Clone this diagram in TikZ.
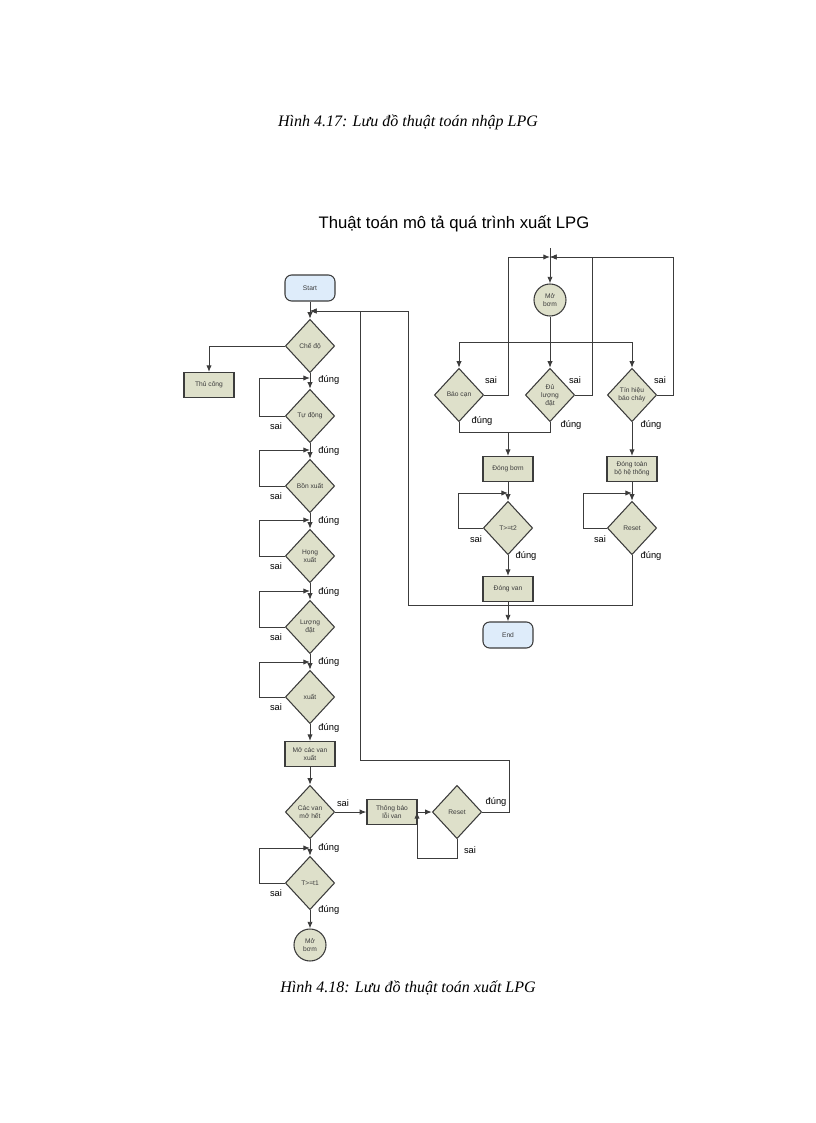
\documentclass[tikz,border=0pt]{standalone}
\usepackage{fontspec}
\setmainfont{Liberation Sans}
\newfontfamily\capfont{Liberation Serif}
\usetikzlibrary{shapes.geometric,arrows.meta}
\definecolor{boxfill}{RGB}{222,224,202}
\definecolor{termfill}{RGB}{222,236,250}
\definecolor{ln}{RGB}{60,60,60}
\begin{document}
\begin{tikzpicture}[x=0.75pt,y=-0.75pt,
  line width=0.7pt, color=ln,
  arr/.style={-{Latex[length=5pt,width=4pt]}},
  box/.style={draw=ln,line width=1pt,fill=boxfill,minimum width=37.5pt,minimum height=18.5pt,inner sep=0pt,font=\fontsize{5}{6}\selectfont,align=center},
  term/.style={draw=ln,line width=0.8pt,fill=termfill,rounded corners=5pt,minimum width=37.5pt,minimum height=19.5pt,inner sep=0pt,font=\fontsize{5}{6}\selectfont},
  dia/.style={diamond,draw=ln,line width=0.8pt,fill=boxfill,minimum width=37pt,minimum height=40pt,inner sep=0pt,font=\fontsize{5}{6}\selectfont,align=center},
  circ/.style={circle,draw=ln,line width=0.8pt,fill=boxfill,minimum size=24pt,inner sep=0pt,font=\fontsize{5}{6}\selectfont,align=center},
  lb/.style={font=\fontsize{7}{8}\selectfont,inner sep=0pt,text=black}]
\useasboundingbox (0,0) rectangle (816,1123);
\node[text=black,font=\capfont\itshape\fontsize{12}{14}\selectfont] (cap1) at (408,122) {Hình 4.17: Lưu đồ thuật toán nhập LPG};
\node[text=black,font=\fontsize{12.5}{15}\selectfont] (title) at (454,224) {Thuật toán mô tả quá trình xuất LPG};
\node[text=black,font=\capfont\itshape\fontsize{12}{14}\selectfont] (cap2) at (408,988) {Hình 4.18: Lưu đồ thuật toán xuất LPG};
% left column
\node[term] (start) at (310,288) {Start};
\coordinate (m0) at (310,311);
\node[dia] (che) at (310,346) {Chế độ};
\node[box] (thu) at (209,385) {Thủ công};
\node[dia] (tu) at (310,416) {Tự động};
\node[dia] (bon) at (310,486) {Bồn xuất};
\node[dia] (hong) at (310,556) {Họng\\xuất};
\node[dia] (luong) at (310,627) {Lượng\\đặt};
\node[dia] (xuat) at (310,697) {xuất};
\node[box] (mocv) at (310,754) {Mở các van\\xuất};
\node[dia] (cacv) at (310,812) {Các van\\mở hết};
\node[box] (tb) at (392,812) {Thông báo\\lỗi van};
\node[dia] (res1) at (457,812) {Reset};
\node[dia] (t1) at (310,883) {T>=t1};
\node[circ] (mob1) at (310,945) {Mở\\bơm};
\draw[arr] (start) -- (che);
\draw[arr] (che.west) -| (thu.north);
\foreach \a/\b/\y in {che/tu/378, tu/bon/450, bon/hong/520, hong/luong/591, luong/xuat/662}{
  \draw[arr] (\a.south) -- (\b.north);
  \coordinate (j\b) at (310,\y);
  \draw[arr] (\b.west) -- (259,\y|-\b.west) -- (259,\y) -- (j\b);
}
\foreach \n/\y in {tu/416,bon/486,hong/556,luong/627,xuat/697}{\node[lb] (s\n) at (276,\y+10) {sai};}
\foreach \y in {380,451,521,592,662,728,848,910}{\node[lb,anchor=west] at (318,\y) {đúng};}
\draw[arr] (xuat.south) -- (mocv.north);
\draw[arr] (mocv.south) -- (cacv.north);
\draw[arr] (cacv.east) -- (tb.west);
\node[lb] (scv) at (343,803) {sai};
\draw[arr] (tb.east) -- (res1.west);
\coordinate (jr) at (417,812);
\draw[arr] (res1.south) -- (457,858) -- (417,858) -- (jr);
\node[lb] (sr1) at (470,850) {sai};
\node[lb] (dr1) at (496,802) {đúng};
\draw[arr] (res1.east) -- (509,812) -- (509,760) -- (360,760) -- (360,311) -- (m0);
\draw[arr] (cacv.south) -- (t1.north);
\coordinate (jt1) at (310,848);
\draw[arr] (t1.west) -- (259,883) -- (259,848) -- (jt1);
\node[lb] (st1) at (276,893) {sai};
\draw[arr] (t1.south) -- (mob1.north);
% right part
\coordinate (m1) at (550,257);
\node[circ] (mob2) at (550,300) {Mở\\bơm};
\node[dia] (bao) at (459,395) {Báo cạn};
\node[dia] (du) at (550,395) {Đủ\\lượng\\đặt};
\node[dia] (tin) at (632,395) {Tín hiệu\\báo cháy};
\node[box] (dongb) at (508,469) {Đóng bơm};
\node[dia] (t2) at (508,528) {T>=t2};
\node[box] (dongv) at (508,589) {Đóng van};
\node[term] (end) at (508,635) {End};
\node[box] (dongt) at (632,469) {Đóng toàn\\bộ hệ thống};
\node[dia] (res2) at (632,528) {Reset};
\draw (550,248) -- (m1);
\draw[arr] (m1) -- (mob2.north);
\draw (mob2.south) -- (550,342);
\draw[arr] (459,342) -- (bao.north);
\draw[arr] (550,342) -- (du.north);
\draw[arr] (459,342) -- (632,342) -- (tin.north);
\draw[arr] (bao.east) -- (508,395) -- (508,257) -- (m1);
\draw[arr] (du.east) -- (592,395) -- (592,257) -- (m1);
\draw[arr] (tin.east) -- (673,395) -- (673,257) -- (m1);
\node[lb] (sb) at (491,380) {sai};
\node[lb] (sd) at (575,380) {sai};
\node[lb] (st) at (660,380) {sai};
\node[lb] (db) at (482,421) {đúng};
\node[lb] (dd) at (571,425) {đúng};
\node[lb] (dt) at (651,425) {đúng};
\draw (bao.south) -- (459,432) -- (550,432) -- (du.south);
\draw[arr] (508,432) -- (dongb.north);
\draw[arr] (tin.south) -- (dongt.north);
\draw[arr] (dongb.south) -- (t2.north);
\coordinate (jt2) at (508,493);
\draw[arr] (t2.west) -- (458,528) -- (458,493) -- (jt2);
\node[lb] (st2) at (476,539) {sai};
\node[lb] (dt2) at (526,556) {đúng};
\draw[arr] (t2.south) -- (dongv.north);
\draw[arr] (dongv.south) -- (end.north);
\draw[arr] (dongt.south) -- (res2.north);
\coordinate (jr2) at (632,493);
\draw[arr] (res2.west) -- (583,528) -- (583,493) -- (jr2);
\node[lb] (sr2) at (600,539) {sai};
\node[lb] (dr2) at (651,556) {đúng};
\draw[arr] (res2.south) -- (632,605) -- (408,605) -- (408,311) -- (m0);
\end{tikzpicture}
\end{document}
